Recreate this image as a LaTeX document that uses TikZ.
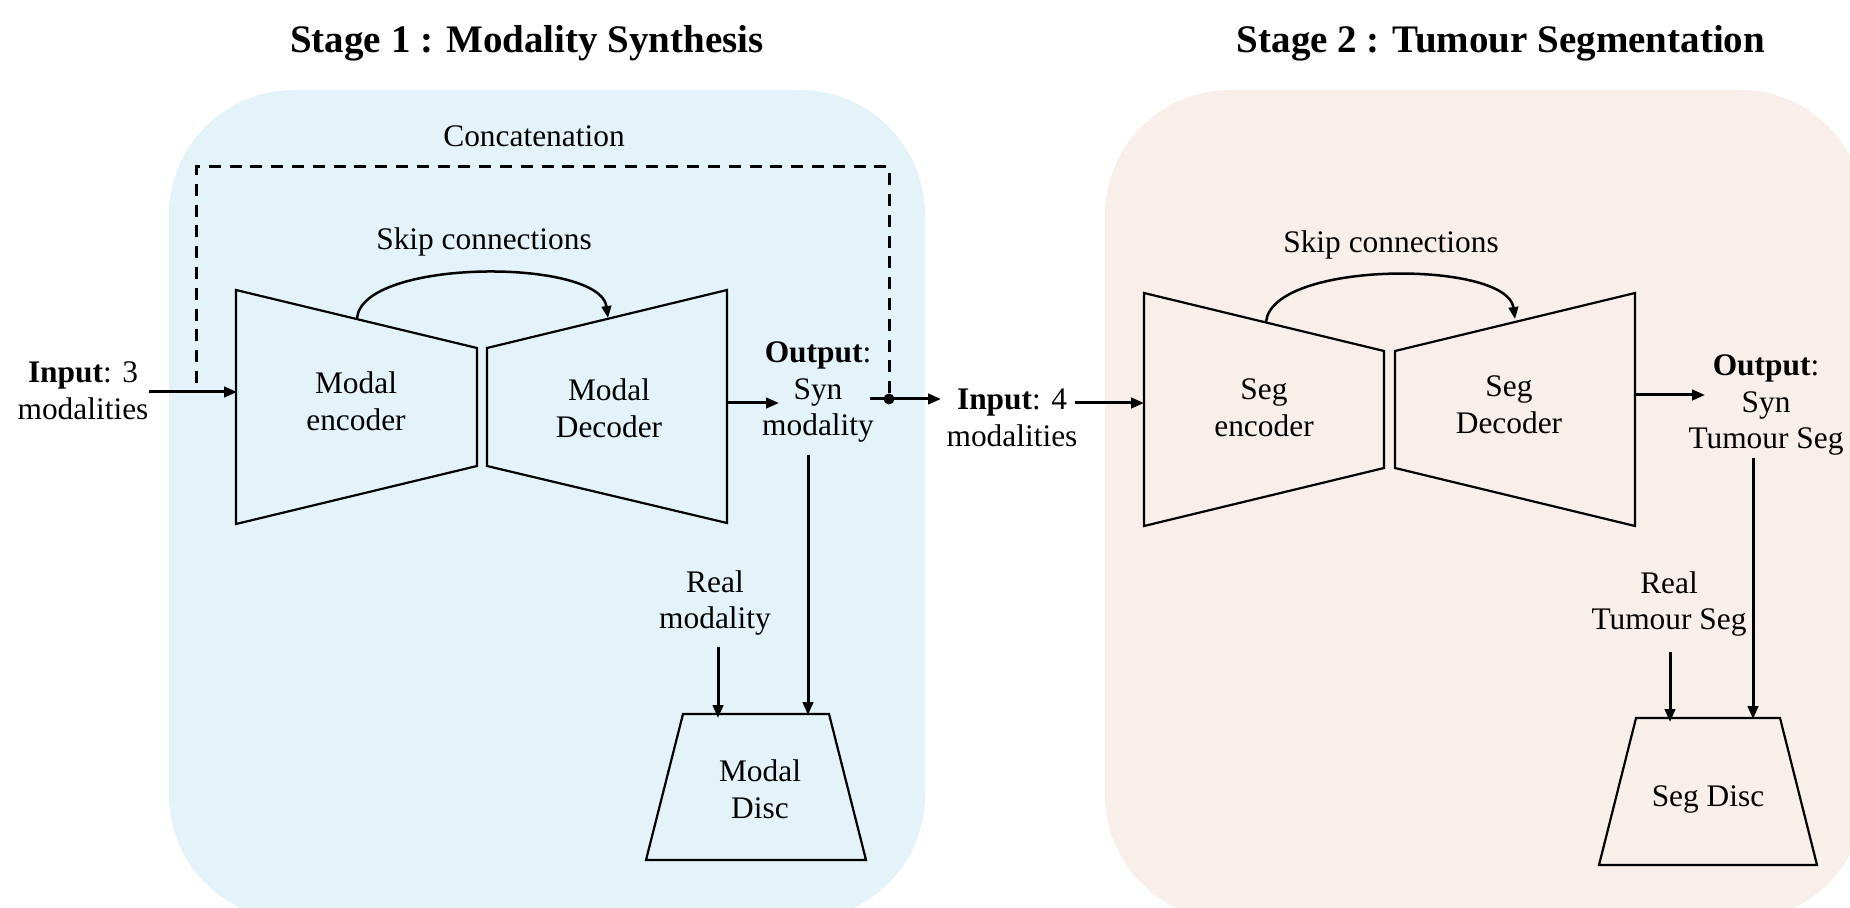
\documentclass[tikz,border=0pt]{standalone}
\usepackage{fontspec}
\setmainfont{Liberation Serif}
\usetikzlibrary{arrows.meta}
\definecolor{bluebg}{RGB}{228,243,249}
\definecolor{pinkbg}{RGB}{248,238,234}
\begin{document}
\begin{tikzpicture}[x=0.5pt,y=-0.5pt,
  lbl/.style={inner sep=0pt, align=center, font=\fontsize{15.7}{18.3}\selectfont},
  ttl/.style={inner sep=0pt, anchor=base, font=\fontsize{19.5}{22}\selectfont\bfseries},
  blk/.style={draw=black, line width=1.1pt, line join=miter},
  arr/.style={line width=1.5pt, -{Triangle[length=6.5pt,width=5.2pt]}},
  skp/.style={line width=1.25pt, -{Triangle[length=6pt,width=4.8pt]}},
  dsh/.style={line width=1.5pt, dash pattern=on 6pt off 4.4pt},
]
\useasboundingbox (0,0) rectangle (1850,908);
% panels
\fill[bluebg, rounded corners=62.5pt] (169,90) rectangle (925,920);
\fill[pinkbg, rounded corners=62.5pt] (1105,90) rectangle (1865,920);
% titles
\node[ttl] (title1) at (527,53) {Stage 1 : Modality Synthesis};
\node[ttl] (title2) at (1501,53) {Stage 2 : Tumour Segmentation};

% ---------- Stage 1 ----------
\coordinate (e1a) at (236,290); \coordinate (e1b) at (477,348);
\coordinate (e1c) at (477,466); \coordinate (e1d) at (236,524);
\draw[blk] (e1a) -- (e1b) -- (e1c) -- (e1d) -- cycle;
\coordinate (d1a) at (487,348); \coordinate (d1b) at (727,290);
\coordinate (d1c) at (727,523); \coordinate (d1d) at (487,466);
\draw[blk] (d1a) -- (d1b) -- (d1c) -- (d1d) -- cycle;
\coordinate (m1a) at (683,714); \coordinate (m1b) at (829,714);
\coordinate (m1c) at (866,860); \coordinate (m1d) at (646,860);
\draw[blk] (m1a) -- (m1b) -- (m1c) -- (m1d) -- cycle;

\node[lbl, anchor=base] (concat) at (534,147) {Concatenation};
\node[lbl, anchor=base] (skip1) at (484,250) {Skip connections};
\node[lbl] (in1) at (83,391) {\textbf{Input}: 3\\modalities};
\node[lbl] (enc1) at (356,401) {Modal\\encoder};
\node[lbl] (dec1) at (609,408) {Modal\\Decoder};
\node[lbl] (out1) at (818,392) {\textbf{Output}:\\Syn\\modality};
\node[lbl] (real1) at (715,603) {Real\\modality};
\node[lbl] (disc1) at (760,789) {Modal\\Disc};

\coordinate (e1in) at (237,392);
\draw[arr] (in1.east |- e1in) -- (e1in);
\coordinate (d1out) at (727,403); \coordinate (o1tip) at (779,403);
\draw[arr] (d1out) -- (o1tip);
% skip connection
\coordinate (s1a) at (357,318); \coordinate (s1b) at (608,318);
\draw[skp] (s1a) .. controls (363,258) and (600,258) .. (s1b);
% concatenation
\coordinate (cL) at (196,383); \coordinate (cTL) at (196,167);
\coordinate (cTR) at (889,167); \coordinate (dot) at (889,399);
\draw[dsh] (cL) -- (cTL) -- (cTR) -- (dot);
\coordinate (oR) at (870,399); \coordinate (in2tip) at (941,399);
\draw[arr] (oR) -- (in2tip);
\fill (dot) circle (5.5);
% to discriminator
\coordinate (o1s) at (808,455); \coordinate (m1t1) at (808,715);
\draw[arr] (o1s) -- (m1t1);
\coordinate (r1s) at (718,647); \coordinate (m1t2) at (718,718);
\draw[arr] (r1s) -- (m1t2);

% ---------- Stage 2 ----------
\coordinate (e2a) at (1144,293); \coordinate (e2b) at (1384,351);
\coordinate (e2c) at (1384,468); \coordinate (e2d) at (1144,526);
\draw[blk] (e2a) -- (e2b) -- (e2c) -- (e2d) -- cycle;
\coordinate (d2a) at (1395,351); \coordinate (d2b) at (1635,293);
\coordinate (d2c) at (1635,526); \coordinate (d2d) at (1395,468);
\draw[blk] (d2a) -- (d2b) -- (d2c) -- (d2d) -- cycle;
\coordinate (m2a) at (1636,718); \coordinate (m2b) at (1780,718);
\coordinate (m2c) at (1817,865); \coordinate (m2d) at (1599,865);
\draw[blk] (m2a) -- (m2b) -- (m2c) -- (m2d) -- cycle;

\node[lbl, anchor=base] (skip2) at (1391,253) {Skip connections};
\node[lbl] (in2) at (1012,418) {\textbf{Input}: 4\\modalities};
\node[lbl] (enc2) at (1264,408) {Seg\\encoder};
\node[lbl] (dec2) at (1509,405) {Seg\\Decoder};
\node[lbl] (out2) at (1766,405) {\textbf{Output}:\\Syn\\Tumour Seg};
\node[lbl] (real2) at (1669,604) {Real\\Tumour Seg};
\node[lbl, anchor=base] (disc2) at (1708,806) {Seg Disc};

\coordinate (i2s) at (1075,403); \coordinate (e2in) at (1144,403);
\draw[arr] (i2s) -- (e2in);
\coordinate (d2out) at (1635,395); \coordinate (o2tip) at (1705,395);
\draw[arr] (d2out) -- (o2tip);
\coordinate (s2a) at (1266,322); \coordinate (s2b) at (1515,319);
\draw[skp] (s2a) .. controls (1272,260) and (1507,260) .. (s2b);
\coordinate (o2s) at (1753,458); \coordinate (m2t1) at (1753,719);
\draw[arr] (o2s) -- (m2t1);
\coordinate (r2s) at (1670,652); \coordinate (m2t2) at (1670,722);
\draw[arr] (r2s) -- (m2t2);
\end{tikzpicture}
\end{document}
